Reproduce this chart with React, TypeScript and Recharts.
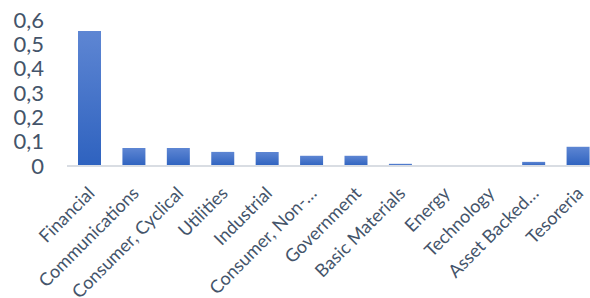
import React from 'react';
import { BarChart, Bar, XAxis, YAxis } from 'recharts';

const categories = [
  'Financial',
  'Communications',
  'Consumer, Cyclical',
  'Utilities',
  'Industrial',
  'Consumer, Non-…',
  'Government',
  'Basic Materials',
  'Energy',
  'Technology',
  'Asset Backed…',
  'Tesoreria',
];
const values = [0.555, 0.074, 0.074, 0.058, 0.058, 0.042, 0.042, 0.009, 0, 0, 0.017, 0.079];
const yTicks = [0, 0.1, 0.2, 0.3, 0.4, 0.5, 0.6];

const data = categories.map((name, i) => ({ name, value: values[i] }));

const TEXT = '#44546A';
const FONT = 'Lato, "Open Sans", sans-serif';

const XTick = (props: any) => {
  const { x, y, payload } = props;
  const tx = x + 6.5;
  const ty = y + 28.5;
  return (
    <text
      x={tx}
      y={ty}
      transform={`rotate(-45 ${tx} ${ty})`}
      textAnchor="end"
      fill={TEXT}
      fontSize={18}
      fontFamily={FONT}
    >
      {payload.value}
    </text>
  );
};

export default function App() {
  return (
    <div style={{ position: 'absolute', left: 0, top: 0, width: 590, height: 298, overflow: 'hidden', background: '#fff' }}>
      <BarChart
        width={600}
        height={298}
        data={data}
        margin={{ top: 20, right: 0, bottom: 0, left: 0 }}
        barSize={23}
      >
        <defs>
          <linearGradient id="barGrad" x1="0" y1="0" x2="0" y2="1">
            <stop offset="0%" stopColor="#5E86D3" />
            <stop offset="100%" stopColor="#2E62BF" />
          </linearGradient>
        </defs>
        <YAxis
          width={67}
          domain={[0, 0.6]}
          ticks={yTicks}
          interval={0}
          axisLine={false}
          tickLine={false}
          tickSize={0}
          tickMargin={23}
          tick={{ fill: TEXT, fontSize: 22, fontFamily: FONT }}
          tickFormatter={(v: number) => String(v).replace('.', ',')}
        />
        <XAxis
          dataKey="name"
          height={132}
          interval={0}
          tickLine={false}
          tickSize={0}
          tickMargin={0}
          axisLine={{ stroke: '#D9DDE3', strokeWidth: 2 }}
          tick={<XTick />}
        />
        <Bar dataKey="value" fill="url(#barGrad)" isAnimationActive={false} />
      </BarChart>
    </div>
  );
}
